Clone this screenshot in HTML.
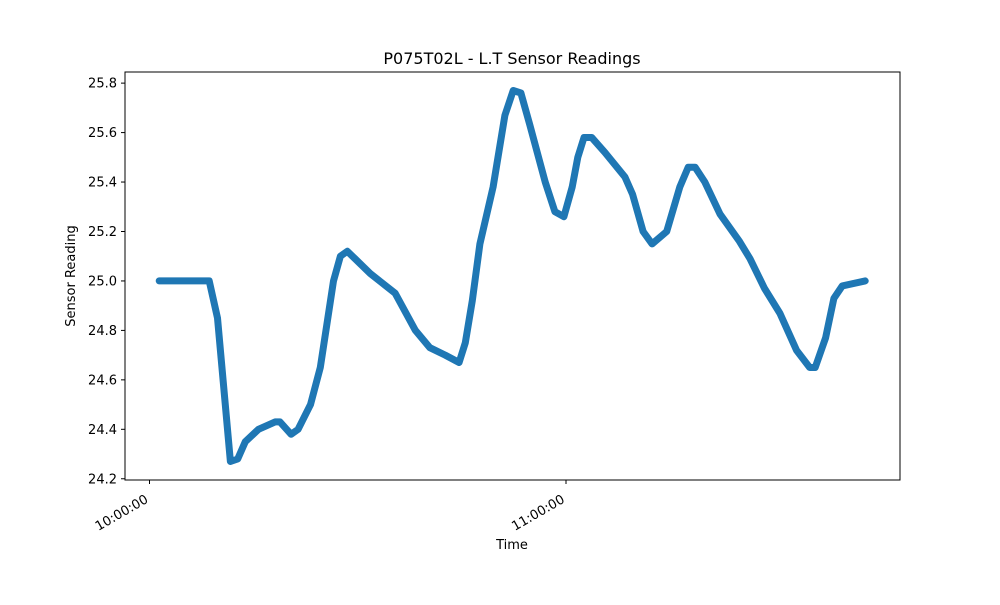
<!DOCTYPE html>
<html><head><meta charset="utf-8"><style>
body{margin:0;background:#fff;font-family:"Liberation Sans","DejaVu Sans",sans-serif;}
svg text{font-family:"DejaVu Sans","Liberation Sans",sans-serif;}
</style></head><body>
<svg id="chart" width="1000" height="600" viewBox="0 0 1000 600">
<rect width="1000" height="600" fill="#fff"/>
<g id="plot"></g>
<rect x="125" y="72" width="775" height="408" fill="none" stroke="#000" stroke-width="1"/>
<g id="axes"></g>
<text x="512" y="64" text-anchor="middle" font-size="16">P075T02L - L.T Sensor Readings</text>
<text x="512" y="549" text-anchor="middle" font-size="13">Time</text>
<text transform="translate(75,276) rotate(-90)" text-anchor="middle" font-size="13">Sensor Reading</text>
</svg>
<script>
const minutes=[1.4,8.6,9.8,11.65,12.7,13.8,15.7,18.1,18.8,20.4,21.4,23.2,24.6,26.5,27.5,28.5,29.6,31.8,35.4,38.3,40.4,42.6,44.6,45.5,46.5,47.6,49.5,51.2,52.4,53.5,54.8,57.0,58.4,59.7,60.9,61.7,62.6,63.7,65.6,68.5,69.6,71.1,72.4,74.5,76.4,77.6,78.6,80.0,82.2,85.0,86.5,88.6,90.8,93.2,95.1,95.9,97.4,98.6,99.8,103.1];
const readings=[25.0,25.0,24.85,24.27,24.28,24.35,24.40,24.43,24.43,24.38,24.40,24.5,24.65,25.0,25.1,25.12,25.09,25.03,24.95,24.8,24.73,24.70,24.67,24.75,24.92,25.15,25.38,25.67,25.77,25.76,25.63,25.4,25.28,25.26,25.38,25.5,25.58,25.58,25.52,25.42,25.35,25.20,25.15,25.20,25.38,25.46,25.46,25.40,25.27,25.16,25.09,24.97,24.87,24.72,24.65,24.65,24.77,24.93,24.98,25.0];
const yTicks=[24.2,24.4,24.6,24.8,25.0,25.2,25.4,25.6,25.8];
const xTicks=[0,60];
const xTickLabels=["10:00:00","11:00:00"];
const NS="http://www.w3.org/2000/svg";
const X=m=>149.5+(m)*(566-149.5)/60;
const Y=v=>480-408*(v-24.195)/1.65;
const plot=document.getElementById('plot'),axes=document.getElementById('axes');
const pts=minutes.map((m,i)=>X(m).toFixed(1)+','+Y(readings[i]).toFixed(1)).join(' ');
const pl=document.createElementNS(NS,'polyline');
pl.setAttribute('points',pts);pl.setAttribute('fill','none');pl.setAttribute('stroke','#1f77b4');
pl.setAttribute('stroke-width','7');pl.setAttribute('stroke-linejoin','round');pl.setAttribute('stroke-linecap','round');


plot.appendChild(pl);
yTicks.forEach(v=>{
 const y=Y(v);
 const l=document.createElementNS(NS,'line');
 l.setAttribute('x1',121);l.setAttribute('x2',125);l.setAttribute('y1',y);l.setAttribute('y2',y);l.setAttribute('stroke','#000');
 
 
 axes.appendChild(l);
 const t=document.createElementNS(NS,'text');
 t.setAttribute('x',117);t.setAttribute('y',y+4.5);t.setAttribute('text-anchor','end');t.setAttribute('font-size','13');
 t.textContent=v.toFixed(1);
 
 
 axes.appendChild(t);
});
xTicks.forEach((m,i)=>{
 const x=X(m);
 const l=document.createElementNS(NS,'line');
 l.setAttribute('x1',x);l.setAttribute('x2',x);l.setAttribute('y1',480);l.setAttribute('y2',484);l.setAttribute('stroke','#000');
 
 
 axes.appendChild(l);
 const t=document.createElementNS(NS,'text');
 t.setAttribute('transform','translate('+(x-5)+',494) rotate(-30)');t.setAttribute('text-anchor','end');t.setAttribute('font-size','13');
 t.setAttribute('dy','9');
 t.textContent=xTickLabels[i];
 
 
 axes.appendChild(t);
});
</script>
</body></html>
